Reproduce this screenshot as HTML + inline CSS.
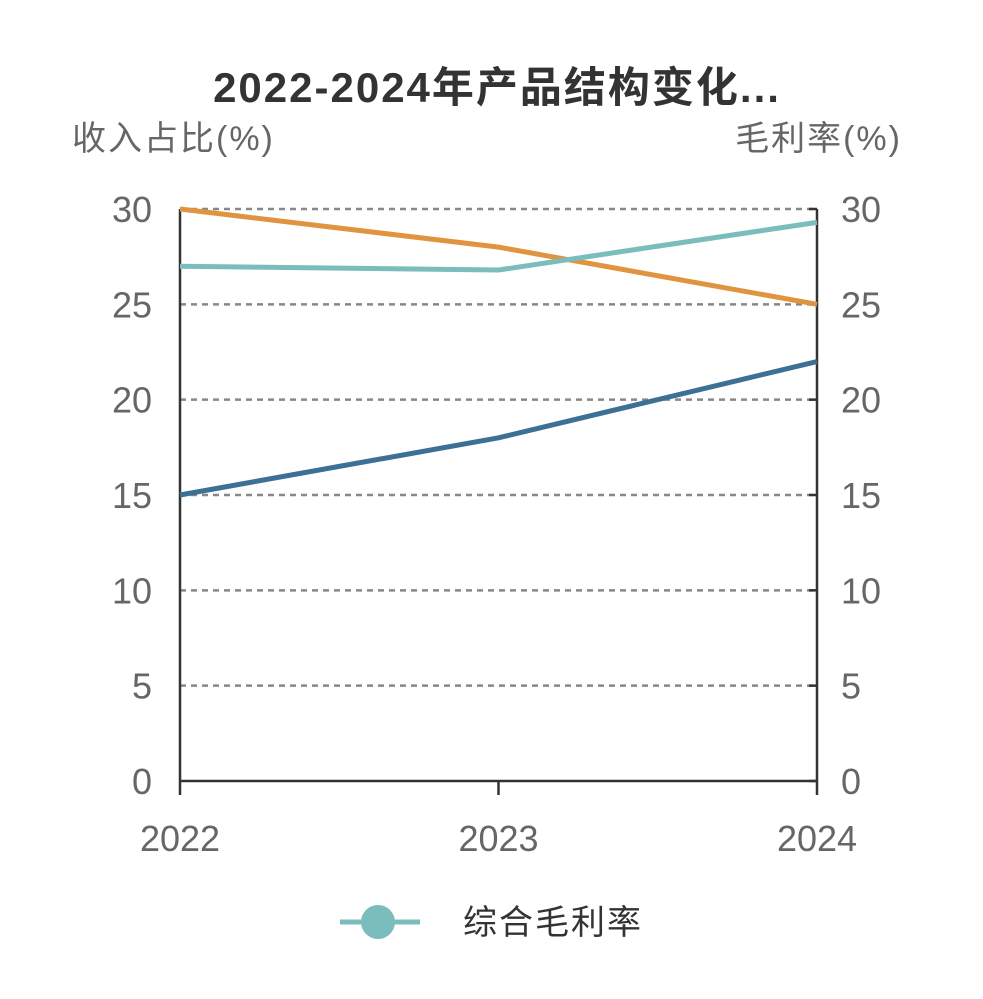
<!DOCTYPE html>
<html><head><meta charset="utf-8"><style>
body{margin:0;background:#fff;}
svg text{font-family:"Liberation Sans","Noto Sans CJK SC",sans-serif;}
</style></head><body>
<svg width="983" height="994" viewBox="0 0 983 994" id="chart">
<text x="497" y="102" text-anchor="middle" font-size="42" font-weight="bold" fill="#333" letter-spacing="2">2022-2024年产品结构变化...</text>
<text x="72" y="150" font-size="34" fill="#666" letter-spacing="2">收入占比(%)</text>
<text x="902" y="150" text-anchor="end" font-size="34" fill="#666" letter-spacing="2">毛利率(%)</text>
<g id="grid"></g><g id="axes"></g><g id="lines"></g>
<g>
<line x1="340" y1="922" x2="420" y2="922" stroke="#7bbdbd" stroke-width="5"/>
<circle cx="378" cy="922" r="17" fill="#7bbdbd"/>
<text x="463" y="934" font-size="34" fill="#333" letter-spacing="2">综合毛利率</text>
</g>
</svg>
<script>
const categories=["2022","2023","2024"];
const ticks=[0,5,10,15,20,25,30];
const seriesOrange=[30,28,25];
const seriesTeal=[27,26.8,29.3];
const seriesBlue=[15,18,22];
const NS="http://www.w3.org/2000/svg";
const L=180,R=817,T=209,B=781;
const x=i=>L+(R-L)*i/(categories.length-1);
const y=v=>B-(B-T)*v/30;
function mk(tag,attrs,parent,text){const e=document.createElementNS(NS,tag);for(const k in attrs)e.setAttribute(k,attrs[k]);if(text!==undefined)e.textContent=text;document.getElementById(parent).appendChild(e);return e;}
ticks.forEach(t=>{
 if(t>0){const g=mk('line',{x1:L,x2:R,y1:y(t),y2:y(t),stroke:'#888','stroke-width':2.5,'stroke-dasharray':'6,5'},'grid');
 
 }
 const a=mk('text',{x:L-28,y:y(t)+13,'text-anchor':'end','font-size':36,fill:'#666'},'axes',t);
 
 
 const b=mk('text',{x:R+24,y:y(t)+13,'font-size':36,fill:'#666'},'axes',t);
 
 
 mk('line',{x1:R-8,x2:R,y1:y(t),y2:y(t),stroke:'#333','stroke-width':2.5},'axes');
});
mk('line',{x1:L,x2:L,y1:T,y2:B,stroke:'#333','stroke-width':2.5},'axes');
mk('line',{x1:R,x2:R,y1:T,y2:B,stroke:'#333','stroke-width':2.5},'axes');
mk('line',{x1:L,x2:R,y1:B,y2:B,stroke:'#333','stroke-width':2.5},'axes');
categories.forEach((c,i)=>{
 mk('line',{x1:x(i),x2:x(i),y1:B,y2:B+14,stroke:'#333','stroke-width':2.5},'axes');
 const t=mk('text',{x:x(i),y:851,'text-anchor':'middle','font-size':36,fill:'#666'},'axes',c);
 
 
});
[[seriesOrange,'#e09440','orange-line'],[seriesTeal,'#7bbdbd','teal-line'],[seriesBlue,'#3d7095','blue-line']].forEach(([s,c,n])=>{
 const p=mk('polyline',{points:s.map((v,i)=>x(i)+','+y(v)).join(' '),fill:'none',stroke:c,'stroke-width':5},'lines');
 
 
});
</script>
</body></html>
